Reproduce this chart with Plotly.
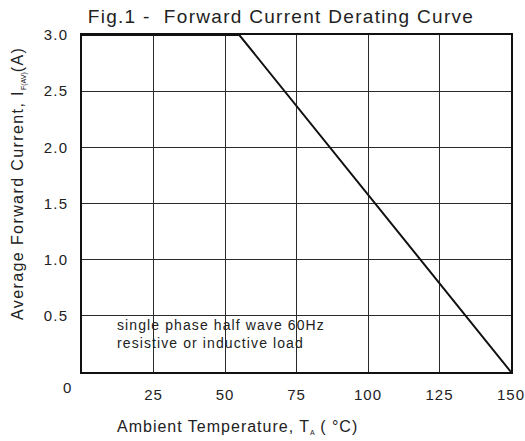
import plotly.graph_objects as go

# Data
temps = [0, 55, 150]
current = [3.0, 3.0, 0.0]
x_ticks = [25, 50, 75, 100, 125, 150]
x_labels = ["25", "50", "75", "100", "125", "150"]
y_ticks = [0.5, 1.0, 1.5, 2.0, 2.5, 3.0]
y_labels = ["0.5", "1.0", "1.5", "2.0", "2.5", "3.0"]

FONT = "Liberation Sans, Arial, sans-serif"
INK = "#222222"


def sp(txt, ls):
    return f"<span style='letter-spacing:{ls}px'>{txt}</span>"


fig = go.Figure()
fig.add_trace(go.Scatter(x=temps, y=current, mode="lines",
                         line=dict(color="#111111", width=2), showlegend=False,
                         hoverinfo="skip", cliponaxis=False))

fig.update_layout(
    width=525, height=441,
    margin=dict(l=82, r=14, t=35, b=69, autoexpand=False),
    paper_bgcolor="white", plot_bgcolor="white",
    font=dict(family=FONT, color=INK, size=15),
    title=dict(text=sp("Fig.1 -  Forward Current Derating Curve", 1.3),
               x=(281) / 525, xanchor="center", y=1 - 16 / 441, yanchor="middle",
               font=dict(size=19, color=INK)),
)
fig.update_xaxes(range=[0, 150], tickvals=x_ticks,
                 ticktext=[sp(t, 1.0) for t in x_labels],
                 ticklabeloverflow="allow", automargin=False,
                 showgrid=True, gridcolor="#2a2a2a", gridwidth=1,
                 showline=True, linecolor="#111111", linewidth=1.5, mirror=True,
                 ticks="", ticklabelstandoff=8, zeroline=False,
                 tickfont=dict(size=15, color=INK))
fig.update_yaxes(range=[0, 3.0], tickvals=y_ticks,
                 ticktext=[sp(t, 1.2) for t in y_labels],
                 automargin=False,
                 showgrid=True, gridcolor="#2a2a2a", gridwidth=1,
                 showline=True, linecolor="#111111", linewidth=1.5, mirror=True,
                 ticks="", ticklabelstandoff=9, zeroline=False,
                 tickfont=dict(size=15, color=INK))

# white box behind the note, hiding grid lines
fig.add_shape(type="rect", xref="paper", yref="paper",
              x0=(108 - 82) / 429, x1=(338 - 82) / 429,
              y0=(372 - 358) / 337, y1=(372 - 310) / 337,
              fillcolor="white", line=dict(width=0), layer="between")

fig.add_annotation(xref="paper", yref="paper",
                   x=(115 - 82) / 429, y=(372 - 334) / 337,
                   xanchor="left", yanchor="middle", align="left",
                   text=sp("single phase half wave 60Hz", 1.1) + "<br>" + sp("resistive or inductive load", 1.1),
                   showarrow=False, font=dict(size=14, color=INK))

# origin label
fig.add_annotation(x=0, y=0, xref="x", yref="y", text="0", showarrow=False,
                   xshift=-15, yshift=-15, font=dict(size=15, color=INK))

# axis titles
fig.add_annotation(xref="paper", yref="paper", x=(237 - 82) / 429, y=(372 - 427) / 337,
                   text=sp("Ambient Temperature, T", 1.0) + "<sub><span style='font-size:7px'>A</span></sub>" + sp(" ( °C)", 1.0),
                   showarrow=False, xanchor="center", yanchor="middle",
                   font=dict(size=16, color=INK))
fig.add_annotation(xref="paper", yref="paper", x=(19 - 82) / 429, y=(372 - 184) / 337,
                   text=sp("Average Forward Current, I", 1.4) + "<sub><span style='font-size:7px'>F(AV)</span></sub>" + sp("(A)", 1.4),
                   textangle=-90, showarrow=False, xanchor="center", yanchor="middle",
                   font=dict(size=16, color=INK))

fig.write_html("out.html", config={"displayModeBar": False},
               post_script="document.body.style.margin='0px';")
